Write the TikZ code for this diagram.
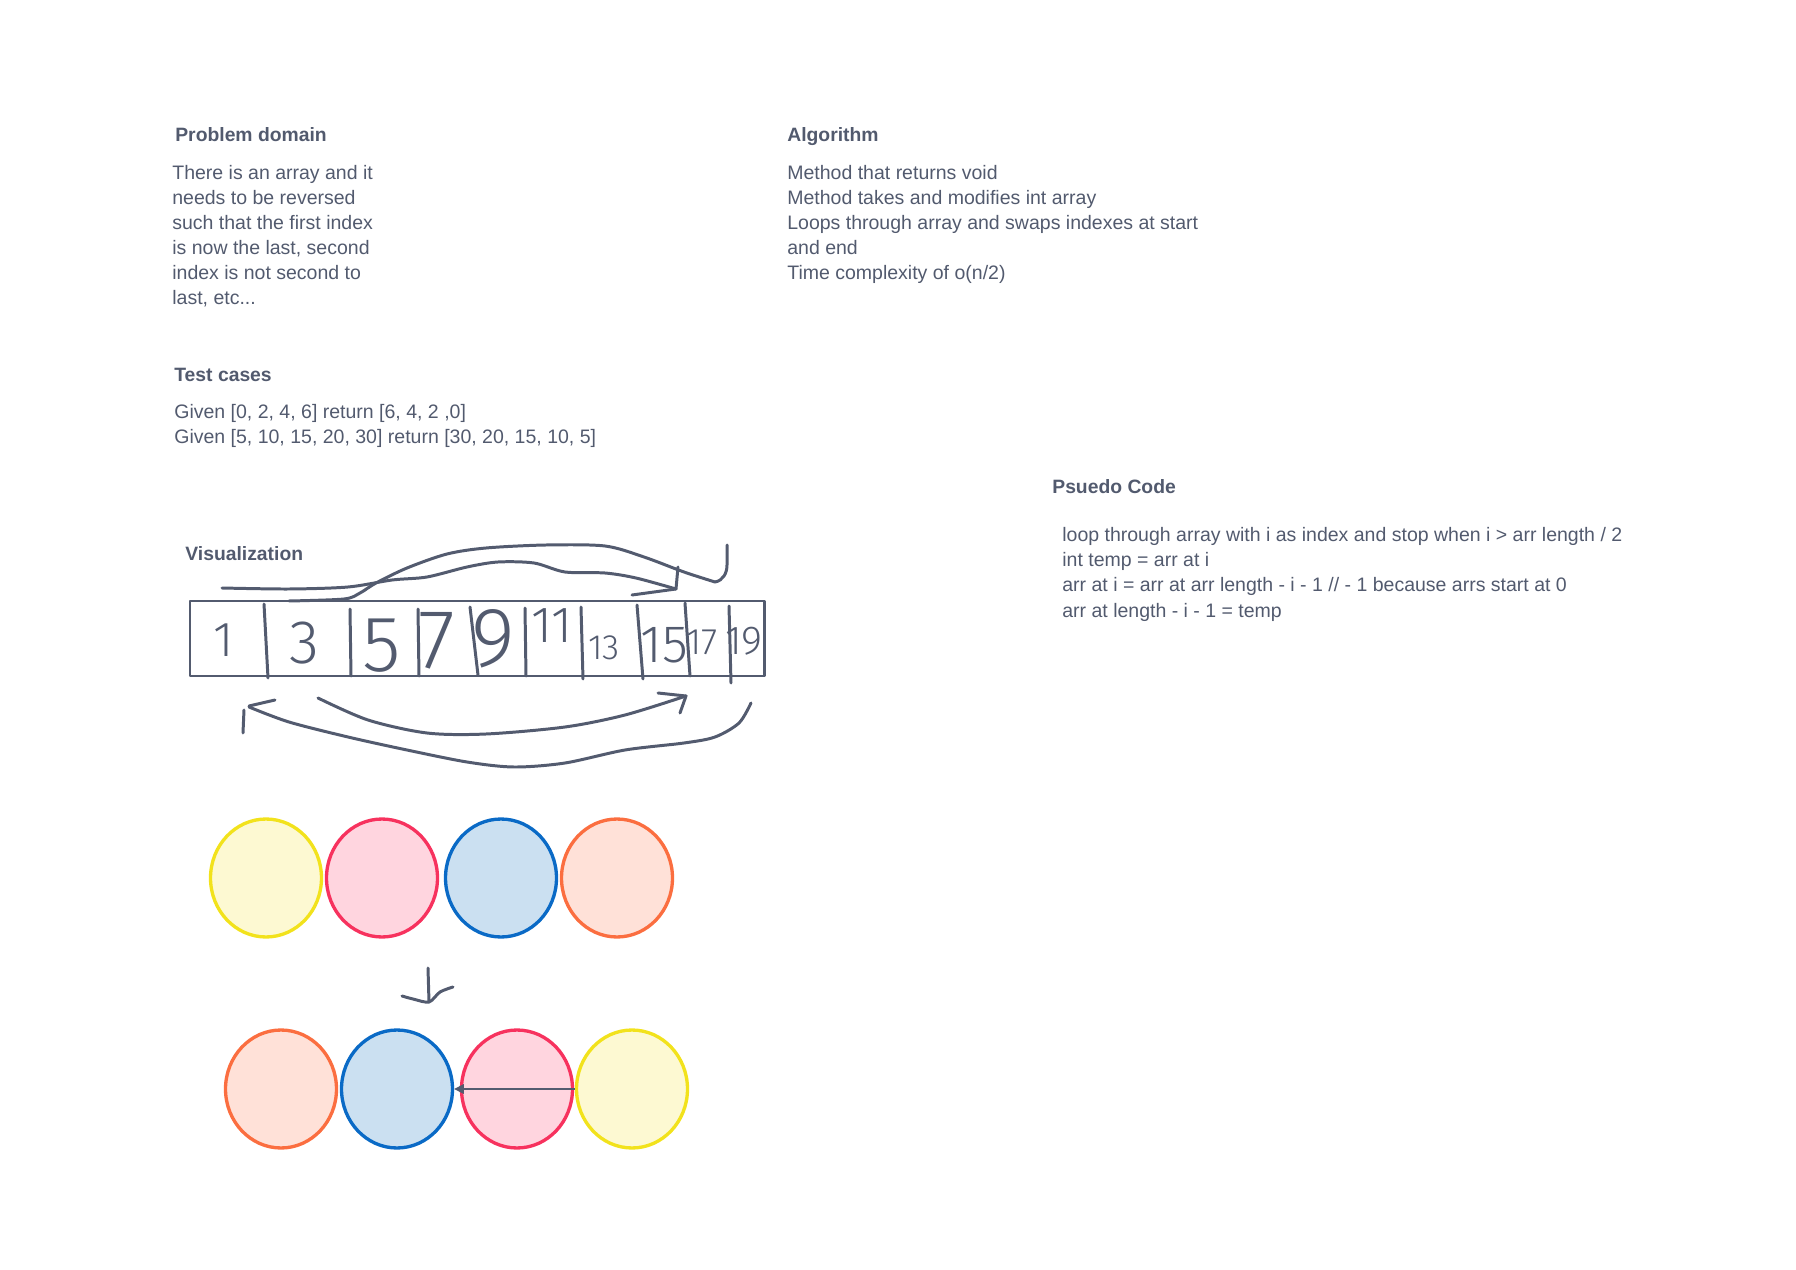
\documentclass[tikz,border=0pt]{standalone}
\usepackage{fontspec}
\setmainfont{Liberation Sans}
\newfontfamily\handfont{Fira Sans Light}
\usetikzlibrary{arrows.meta, shapes.geometric}
\definecolor{inkGray}{HTML}{525A6E}
\definecolor{penGray}{HTML}{535B6F}
\definecolor{sunLine}{HTML}{F2E21C}
\definecolor{sunFill}{HTML}{FDF9D2}
\definecolor{roseLine}{HTML}{F7325E}
\definecolor{roseFill}{HTML}{FFD5DF}
\definecolor{skyLine}{HTML}{0A6AC6}
\definecolor{skyFill}{HTML}{CBE0F1}
\definecolor{peachLine}{HTML}{FB6E40}
\definecolor{peachFill}{HTML}{FFE1D8}

\begin{document}
\begin{tikzpicture}[x=0.02cm, y=-0.02cm,
  title/.style={anchor=base west, inner sep=0pt, text=inkGray,
                font=\bfseries\fontsize{11}{14.3}\selectfont},
  % multi-line blocks are placed by the baseline of their last line
  txt/.style={anchor=base west, inner sep=0pt, align=left, text=inkGray,
              font=\fontsize{11.1}{14.34}\selectfont},
  pen/.style={draw=penGray, line width=1.7pt, line cap=round, line join=round},
  digit/.style={inner sep=0pt, text=penGray, font=\handfont\fontsize{#1}{#1}\selectfont},
  ball/.style={ellipse, minimum width=2.22cm, minimum height=2.36cm, line width=1.9pt},
  sun/.style={ball, draw=sunLine, fill=sunFill},
  rose/.style={ball, draw=roseLine, fill=roseFill},
  sky/.style={ball, draw=skyLine, fill=skyFill},
  peach/.style={ball, draw=peachLine, fill=peachFill},
  arr/.style={-{Triangle[length=5.5pt, width=5.5pt]}, draw=penGray, line width=0.8pt}
]
  \useasboundingbox (0,0) rectangle (1796,1270);

  % text blocks
  \node[title] (domain) at (175,142) {Problem domain};
  \node[txt] (domaintxt) at (172,305) {There is an array and it\\needs to be reversed\\
    such that the first index\\is now the last, second\\index is not second to\\last, etc...};
  \node[title] (algo) at (787,142) {Algorithm};
  \node[txt] (algotxt) at (787,280) {Method that returns void\\Method takes and modifies int array\\
    Loops through array and swaps indexes at start\\and end\\Time complexity of o(n/2)};
  \node[title] (tests) at (174,382) {Test cases};
  \node[txt] (teststxt) at (174,444) {Given [0, 2, 4, 6] return [6, 4, 2 ,0]\\
    Given [5, 10, 15, 20, 30] return [30, 20, 15, 10, 5]};
  \node[title] (pseudo) at (1052,494) {Psuedo Code};
  \node[txt] (pseudotxt) at (1062,617) {loop through array with i as index and stop when i > arr length / 2\\
    int temp = arr at i\\arr at i = arr at arr length - i - 1 // - 1 because arrs start at 0\\
    arr at length - i - 1 = temp};
  \node[title] (visual) at (185,561) {Visualization};

  % sketched array
  \draw[pen] (190,601) rectangle (764,676);
  \foreach \xa/\ya/\xb/\yb in {264/604/268/678, 350/609/351/676, 418/609/419/676,
      470/607/478/675, 525/608/526/676, 581/607/583/679, 637/605/643/679,
      685/603/690/676, 729/606/731/683}
    \draw[pen] (\xa,\ya) -- (\xb,\yb);
  \foreach \x/\y/\s/\t in {224/640/28/1, 304/643/35/3, 382/646/45/5, 437/641/48/7,
      493/639/48/9, 552/626/29/11, 604/648/20/13, 664/645/30/15, 702/642/21/17, 744/641/23/19}
    \node[digit=\s] (cell\t) at (\x,\y) {\t};

  % swap strokes above
  \draw[pen] plot[smooth] coordinates {(222,588) (289,589) (348,587) (392,580) (427,577)
      (467,567) (498,562) (534,563) (565,572) (605,573) (636,578) (676,589)};
  \draw[pen] (632,595) -- (676,589) -- (678,567);
  \draw[pen] plot[smooth] coordinates {(289,601) (344,599) (360,593) (376,583) (407,568)
      (447,554) (486,548) (546,545) (605,546) (644,557) (684,572) (715,582)};
  \draw[pen] (715,582) to[out=10,in=-90] (727,565) -- (727,545);

  % swap strokes below
  \draw[pen] plot[smooth] coordinates {(318,698) (368,720) (427,733) (486,734) (565,727)
      (625,715) (686,696)};
  \draw[pen] (658,693) -- (686,696) -- (680,713);
  \draw[pen] plot[smooth] coordinates {(751,703) (739,723) (715,737) (684,743) (625,750)
      (565,763) (514,767) (467,762) (407,750) (348,737) (289,722) (249,707)};
  \draw[pen] (249,706) -- (275,700);
  \draw[pen] (244,710) -- (243,733);

  % circles before
  \node[sun] (sun1) at (266,878) {};
  \node[rose] (rose1) at (382,878) {};
  \node[sky] (sky1) at (501,878) {};
  \node[peach] (peach1) at (617,878) {};

  \draw[pen] (428,968) -- (429,1002);
  \draw[pen] plot[smooth] coordinates {(402,996) (413,999) (429,1002) (440,992) (453,987)};

  % circles after
  \node[peach] (peach2) at (281,1089) {};
  \node[sky] (sky2) at (397,1089) {};
  \node[rose] (rose2) at (517,1089) {};
  \node[sun] (sun2) at (632,1089) {};
  \draw[arr] (sun2.west) -- (sky2.east);
\end{tikzpicture}
\end{document}
